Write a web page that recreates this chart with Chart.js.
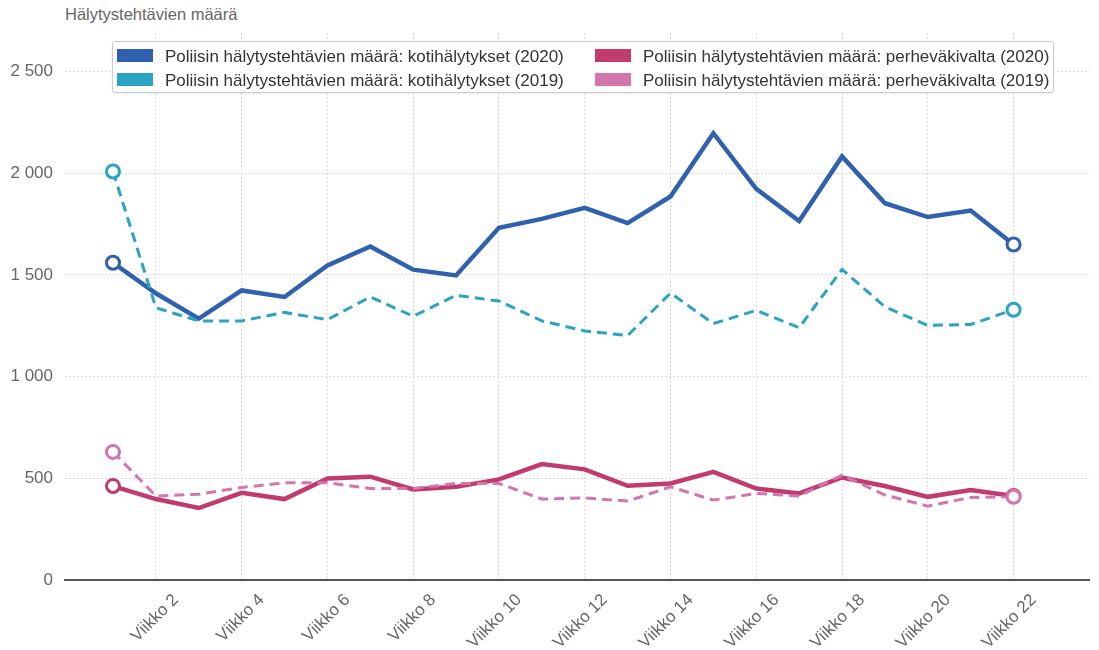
<!DOCTYPE html>
<html>
<head>
<meta charset="utf-8">
<script src="https://cdn.jsdelivr.net/npm/chart.js@4/dist/chart.umd.min.js"></script>
<style>
  html,body{margin:0;padding:0;background:#fff;}
  #wrap{position:relative;width:1099px;height:650px;font-family:"Liberation Sans",Arial,sans-serif;}
  #ytitle{position:absolute;left:65px;top:5px;font-size:16.5px;color:#666;white-space:nowrap;}
  #legend{position:absolute;left:112px;top:41px;width:940px;height:50px;background:#fff;border:1px solid #ccc;border-radius:3px;box-shadow:0 1px 2px rgba(0,0,0,0.08);z-index:2;}
  .li{position:absolute;font-size:17px;color:#333;white-space:nowrap;line-height:20px;}
  .sw{display:inline-block;width:36px;height:13px;vertical-align:middle;margin-right:12px;position:relative;top:-2px;}
  canvas{position:absolute;left:0;top:0;}
</style>
</head>
<body>
<div id="wrap">
  <div id="ytitle">Hälytystehtävien määrä</div>
  <div id="legend"></div>
  <canvas id="c" width="1099" height="650"></canvas>
</div>
<script>
const weeks = [1,2,3,4,5,6,7,8,9,10,11,12,13,14,15,16,17,18,19,20,21,22];
const weekPrefix = "Viikko";
const seriesNames = [
  "Poliisin hälytystehtävien määrä: kotihälytykset (2020)",
  "Poliisin hälytystehtävien määrä: kotihälytykset (2019)",
  "Poliisin hälytystehtävien määrä: perheväkivalta (2020)",
  "Poliisin hälytystehtävien määrä: perheväkivalta (2019)"
];
const koti2020 = [1560,1410,1285,1424,1392,1547,1640,1526,1498,1732,1776,1830,1755,1886,2197,1924,1765,2083,1853,1785,1817,1650];
const koti2019 = [2009,1339,1274,1274,1316,1280,1392,1297,1400,1372,1274,1225,1202,1411,1261,1326,1241,1527,1343,1252,1257,1329];
const perhe2020 = [462,398,354,429,398,499,508,445,458,495,570,544,463,475,532,450,426,504,462,409,442,413];
const perhe2019 = [630,413,422,455,478,478,450,450,475,475,398,404,388,458,393,426,413,516,418,363,406,409];
const yTicks = [0,500,1000,1500,2000,2500];
const xTicks = [2,4,6,8,10,12,14,16,18,20,22];

const colors = ["#3061ae","#2aa3c5","#c13b6f","#d276ad"];
const allSeries = [koti2020, koti2019, perhe2020, perhe2019];

// HTML legend
const legendEl = document.getElementById('legend');
const legPos = [[4,5],[4,29],[482,5],[482,29]];
seriesNames.forEach((n,i)=>{
  const d=document.createElement('div');
  d.className='li';
  d.style.left=legPos[i][0]+'px';
  d.style.top=legPos[i][1]+'px';
  d.innerHTML='<span class="sw" style="background:'+colors[i]+'"></span>'+n;
  legendEl.appendChild(d);
});

function fmt(v){ return String(v).replace(/\B(?=(\d{3})+(?!\d))/g,' '); }

const n = weeks.length;
const ptRadius = ctx => (ctx.dataIndex===0 || ctx.dataIndex===n-1) ? 6.5 : 0;

const datasets = allSeries.map((s,i)=>({
  label: seriesNames[i],
  data: weeks.map((w,j)=>({x:w,y:s[j]})),
  borderColor: colors[i],
  backgroundColor: '#fff',
  borderWidth: (i%2===0) ? 4.5 : 3,
  borderDash: (i%2===0) ? [] : [10,6],
  pointRadius: ptRadius,
  pointHoverRadius: ptRadius,
  pointBorderWidth: 3,
  pointBackgroundColor: '#fff',
  pointBorderColor: colors[i],
  tension: 0,
  fill: false,
  order: (i%2===0) ? 2 : 1
}));

new Chart(document.getElementById('c'), {
  type: 'line',
  data: { datasets },
  options: {
    responsive: false,
    animation: false,
    events: [],
    layout: { padding: { top: 33, right: 0, left: 0, bottom: 0 } },
    plugins: { legend: { display: false }, title: { display: false }, tooltip: { enabled: false } },
    scales: {
      x: {
        type: 'linear',
        min: -0.119,
        max: 23.77,
        afterBuildTicks: sc => { sc.ticks = xTicks.map(v=>({value:v})); },
        afterFit: sc => { sc.height = 70; },
        grid: { color: '#dcdcdc', lineWidth: 1, drawTicks: false },
        border: { display: true, color: '#555', width: 2, dash: [2,2] },
        ticks: {
          autoSkip: false,
          maxRotation: 45, minRotation: 45,
          padding: 10,
          labelOffset: 20,
          color: '#666',
          font: { family: '"Liberation Sans", Arial, sans-serif', size: 17 },
          callback: v => weekPrefix + ' ' + v
        }
      },
      y: {
        min: 0,
        max: 2690,
        afterBuildTicks: sc => { sc.ticks = yTicks.map(v=>({value:v})); },
        afterFit: sc => { sc.width = 65; },
        grid: { color: '#dcdcdc', lineWidth: 1, drawTicks: false },
        border: { display: false, dash: [2,2] },
        ticks: {
          padding: 12,
          color: '#666',
          font: { family: '"Liberation Sans", Arial, sans-serif', size: 17 },
          callback: v => fmt(v)
        }
      }
    }
  }
});
</script>
</body>
</html>
